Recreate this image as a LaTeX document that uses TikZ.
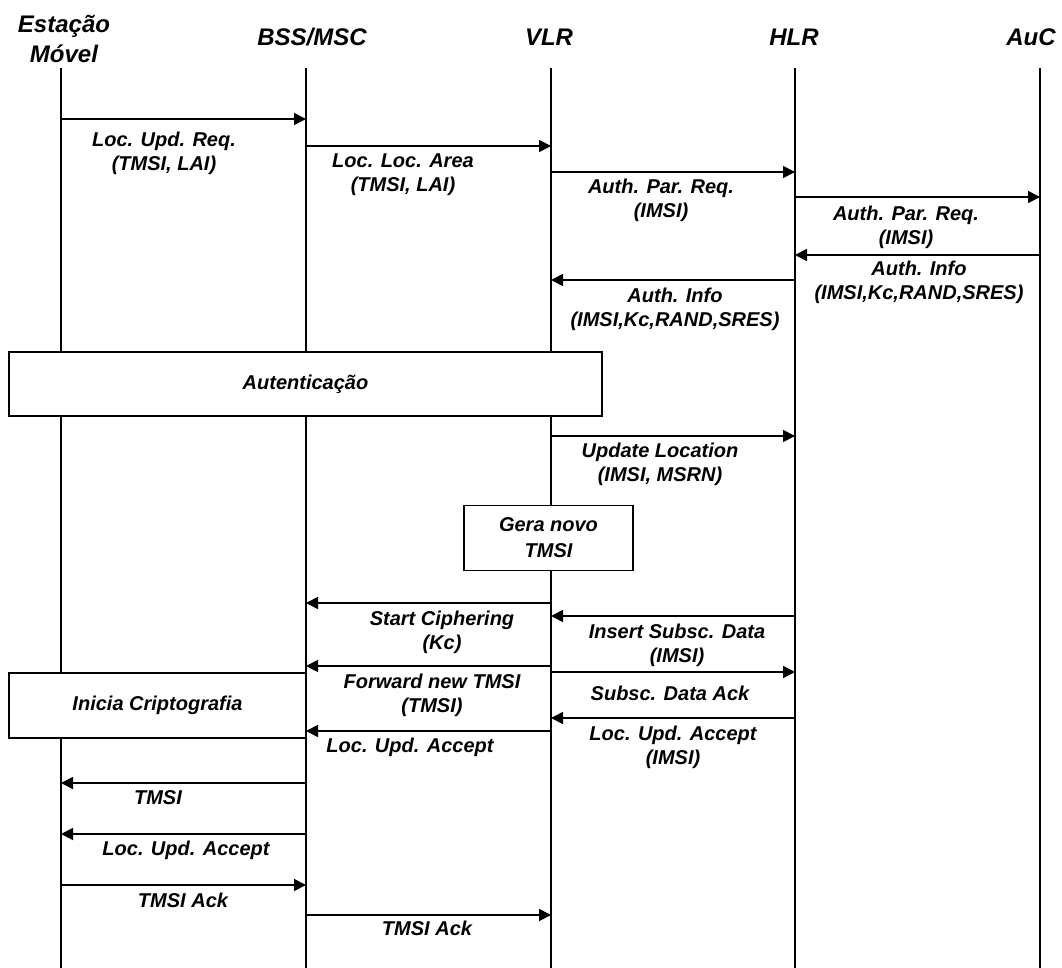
\documentclass[tikz,border=0pt]{standalone}
\usepackage{fontspec}
\setmainfont{Liberation Sans}
\usepackage{tikz}
\usetikzlibrary{arrows.meta}
\tikzset{
  life/.style ={draw=black, line width=1.2pt},
  ar/.style   ={-{Triangle[length=12pt,width=12pt]}, line width=1.8pt},
  lbl/.style  ={font=\fontsize{20}{24}\selectfont\bfseries\itshape, align=center,
                inner sep=0pt, anchor=north},
  hdr/.style  ={font=\fontsize{24}{30}\selectfont\bfseries\itshape, align=center,
                inner sep=0pt, anchor=north},
  blk/.style  ={rectangle, draw=black, fill=white, line width=1.4pt, align=center,
                font=\fontsize{20}{26}\selectfont\bfseries\itshape, inner sep=0pt},
}
% message: name, from, to, y, label x, label baseline, text
\newcommand{\msg}[7]{%
  \draw[ar] (#2 |- 0,#4) -- (#3 |- 0,#4);
  \node[lbl] (#1) at (#5,#6-16.8) {\strut #7};}

\begin{document}
\begin{tikzpicture}[x=1pt, y=-1pt]
\useasboundingbox (0,0) rectangle (1062,968);
\coordinate (ms) at (61,68);
\coordinate (bss) at (306,68);
\coordinate (vlr) at (551,68);
\coordinate (hlr) at (795,68);
\coordinate (auc) at (1040,68);
\node[hdr] (hms) at (64,11) {\strut Estação\\Móvel};
\node[hdr] (hbss) at (312,24) {\strut BSS/MSC};
\node[hdr] (hvlr) at (549,24) {\strut VLR};
\node[hdr] (hhlr) at (794,24) {\strut HLR};
\node[hdr] (hauc) at (1031,24) {\strut AuC};
\foreach \l in {ms,bss,vlr,hlr,auc}
  \draw[life] (\l) -- (\l |- 0,968);

\msg{m1}{ms}{bss}{119}{164}{146}{Loc. Upd. Req.\\(TMSI, LAI)}
\msg{m2}{bss}{vlr}{146}{403}{167}{Loc. Loc. Area\\(TMSI, LAI)}
\msg{m3}{vlr}{hlr}{172}{661}{193}{Auth. Par. Req.\\(IMSI)}
\msg{m4}{hlr}{auc}{197}{906}{220}{Auth. Par. Req.\\(IMSI)}
\msg{m5}{auc}{hlr}{255}{919}{275}{Auth. Info\\(IMSI,Kc,RAND,SRES)}
\msg{m6}{hlr}{vlr}{280}{675}{302}{Auth. Info\\(IMSI,Kc,RAND,SRES)}
\node[blk, minimum width=593pt, minimum height=64pt] (aut) at (305.5,384) {Autenticação};
\msg{m7}{vlr}{hlr}{436}{660}{457}{Update Location\\(IMSI, MSRN)}
\node[blk, minimum width=169pt, minimum height=65pt] (gera) at (548.5,538) {Gera novo\\TMSI};
\msg{m8}{vlr}{bss}{603}{442}{625}{Start Ciphering\\(Kc)}
\msg{m9}{hlr}{vlr}{616}{677}{638}{Insert Subsc. Data\\(IMSI)}
\msg{m10}{vlr}{bss}{666}{432}{688}{Forward new TMSI\\(TMSI)}
\msg{m11}{vlr}{hlr}{672}{670}{700}{Subsc. Data Ack}
\node[blk, minimum width=297pt, minimum height=65pt] (cript) at (157.5,705.5) {Inicia Criptografia};
\msg{m12}{hlr}{vlr}{718}{673}{740}{Loc. Upd. Accept\\(IMSI)}
\msg{m13}{vlr}{bss}{731}{410}{752}{Loc. Upd. Accept}
\msg{m14}{bss}{ms}{783}{158}{804}{TMSI}
\msg{m15}{bss}{ms}{834}{186}{855}{Loc. Upd. Accept}
\msg{m16}{ms}{bss}{885}{183}{907}{TMSI Ack}
\msg{m17}{bss}{vlr}{915}{427}{935}{TMSI Ack}
\end{tikzpicture}
\end{document}
